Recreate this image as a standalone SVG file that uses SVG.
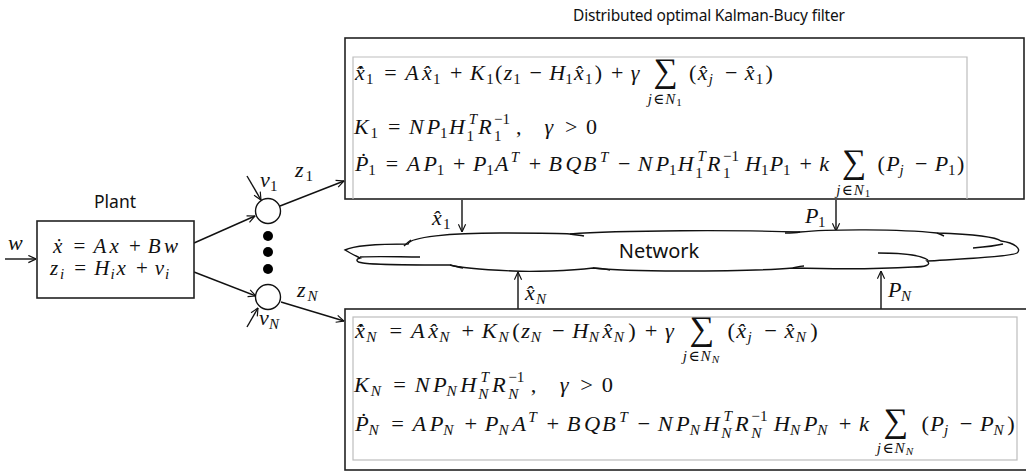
<svg xmlns="http://www.w3.org/2000/svg" width="1026" height="471" viewBox="0 0 1026 471">
<style>
.m{font-family:"Liberation Serif","DejaVu Serif",serif;font-size:22px;fill:#111}
.i{font-style:italic}
.s{font-size:15px}
.ss{font-size:11px}
.sg{font-size:34px;text-anchor:middle}
.lim{font-size:15px;text-anchor:middle;letter-spacing:1px}
.sans{font-family:"Noto Sans","Open Sans","DejaVu Sans",sans-serif;fill:#111}
.ln{fill:none;stroke:#111;stroke-width:1.4}
.box{fill:#fff;stroke:#222;stroke-width:1.6}
.gray{fill:none;stroke:#bdbdbd;stroke-width:1.2}
</style>
<defs>
<marker id="ah" viewBox="0 0 10 10" refX="9.5" refY="5" markerWidth="9" markerHeight="9" markerUnits="userSpaceOnUse" orient="auto">
<path d="M1,1 L9.5,5 L1,9" fill="none" stroke="#111" stroke-width="1.3"/>
</marker>
</defs>
<rect width="1026" height="471" fill="#fff"/>

<g id="title">
<text class="sans" x="709" y="21" font-size="15.5" text-anchor="middle" textLength="272" lengthAdjust="spacing">Distributed optimal Kalman-Bucy filter</text>
</g>

<g id="connectors">
<line class="ln" x1="5" y1="259" x2="36" y2="259" marker-end="url(#ah)"/>
<line class="ln" x1="194" y1="243" x2="255" y2="216" marker-end="url(#ah)"/>
<line class="ln" x1="194" y1="272" x2="256" y2="296" marker-end="url(#ah)"/>
<line class="ln" x1="247" y1="176" x2="261" y2="200" marker-end="url(#ah)"/>
<line class="ln" x1="247" y1="327" x2="258" y2="308" marker-end="url(#ah)"/>
<line class="ln" x1="280" y1="206" x2="344" y2="181" marker-end="url(#ah)"/>
<line class="ln" x1="281" y1="302" x2="344" y2="321" marker-end="url(#ah)"/>
<line class="ln" x1="462" y1="200" x2="462" y2="232" marker-end="url(#ah)"/>
<line class="ln" x1="836" y1="200" x2="836" y2="231" marker-end="url(#ah)"/>
<line class="ln" x1="518" y1="309" x2="518" y2="272" marker-end="url(#ah)"/>
<line class="ln" x1="881" y1="309" x2="881" y2="271" marker-end="url(#ah)"/>
<text class="m i" x="8" y="250">w</text>
<text class="m"><tspan class="i" x="260" y="187">v</tspan><tspan class="s" x="270" y="191">1</tspan></text>
<text class="m"><tspan class="i" x="295" y="177">z</tspan><tspan class="s" x="305.5" y="181">1</tspan></text>
<text class="m"><tspan class="i" x="297" y="297">z</tspan><tspan class="s i" x="307.5" y="301">N</tspan></text>
<text class="m"><tspan class="i" x="259" y="325">v</tspan><tspan class="s i" x="269" y="329">N</tspan></text>
<text class="m"><tspan class="i" x="432" y="225">x&#x302;</tspan><tspan class="s" x="443" y="229">1</tspan></text>
<text class="m"><tspan class="i" x="805" y="223">P</tspan><tspan class="s" x="818" y="227">1</tspan></text>
<text class="m"><tspan class="i" x="525" y="300">x&#x302;</tspan><tspan class="s i" x="536" y="304">N</tspan></text>
<text class="m"><tspan class="i" x="888" y="297">P</tspan><tspan class="s i" x="901" y="301">N</tspan></text>
</g>

<g id="plant">
<text class="sans" x="115" y="208" font-size="17.5" text-anchor="middle">Plant</text>
<rect class="box" x="37" y="221" width="157" height="77"/>
<text class="m" style="font-size:21px">
<tspan class="i" x="53" y="253">x&#x307;</tspan><tspan x="73.5" y="253">=</tspan><tspan class="i" x="93.6" y="253">A</tspan><tspan class="i" x="109.6" y="253">x</tspan><tspan x="128.9" y="253">+</tspan><tspan class="i" x="147.8" y="253">B</tspan><tspan class="i" x="164" y="253">w</tspan>
<tspan class="i" x="50" y="275">z</tspan><tspan class="s i" x="59.9" y="279">i</tspan><tspan x="74.2" y="275">=</tspan><tspan class="i" x="94.3" y="275">H</tspan><tspan class="s i" x="110.6" y="279">i</tspan><tspan class="i" x="116.6" y="275">x</tspan><tspan x="135.9" y="275">+</tspan><tspan class="i" x="154.8" y="275">v</tspan><tspan class="s i" x="165.1" y="279">i</tspan>
</text>
</g>

<g id="sum-node-1"><circle cx="268" cy="211" r="12.5" fill="#fff" stroke="#111" stroke-width="1.4"/></g>
<g id="sum-node-N"><circle cx="268" cy="297" r="12.5" fill="#fff" stroke="#111" stroke-width="1.4"/></g>
<g id="dots" fill="#000">
<circle cx="268" cy="236" r="5"/><circle cx="268" cy="252" r="5"/><circle cx="268" cy="269" r="5"/>
</g>

<g id="network">
<path d="M345,250 C355,245 385,244 408,244 C410,237 450,233 500,233 C540,233 560,233 570,234 C620,230 740,230 800,232 C830,229 900,229 937,233 C965,234 995,236 1001,241 C1015,243 1022,249 1017,253 C1010,257 960,259 927,261 C932,265 925,267 913,267 C880,269 830,269 793,268 C760,271 700,271 680,271 C650,271 610,270 593,268 C570,271 530,272 513,271 C490,270 460,268 450,265 C420,265 375,265 363,263 C355,262 356,259 360,258 C356,256 350,253 345,250 Z" fill="#fff" stroke="#111" stroke-width="1.4"/>
<path class="ln" d="M360,257 C380,256 400,257 420,257 M404,246 C406,244 408,242 411,240 M570,234 C575,235 580,235 584,236 M800,232 C795,233 790,233 785,233 M937,233 C940,234 942,235 944,236 M973,248 C985,247 995,246 1003,244 M878,253 C905,253 922,256 928,260 M793,268 C797,267 800,266 804,266 M593,268 C600,268 605,269 610,270 M450,265 C455,266 458,267 463,268"/>
<text class="sans" x="659" y="258" font-size="20" text-anchor="middle">Network</text>
</g>

<g id="filter-1">
<rect class="box" x="345" y="38" width="679" height="161"/>
<path class="gray" d="M353,199 V57 H967 V199"/>
<text class="m">
<tspan class="i" x="355" y="80">x&#x302;&#x307;</tspan><tspan class="s" x="366" y="84">1</tspan>
<tspan x="384.3" y="80">=</tspan>
<tspan class="i" x="405.3" y="80">A</tspan><tspan class="i" x="422" y="80">x&#x302;</tspan><tspan class="s" x="433" y="84">1</tspan>
<tspan x="450.1" y="80">+</tspan>
<tspan class="i" x="469.9" y="80">K</tspan><tspan class="s" x="486.3" y="84">1</tspan>
<tspan x="495.1" y="80">(</tspan><tspan class="i" x="503.8" y="80">z</tspan><tspan class="s" x="513.2" y="84">1</tspan>
<tspan x="529.5" y="80">−</tspan>
<tspan class="i" x="549.3" y="80">H</tspan><tspan class="s" x="565.3" y="84">1</tspan><tspan class="i" x="574.1" y="80">x&#x302;</tspan><tspan class="s" x="585.1" y="84">1</tspan><tspan x="594.7" y="80">)</tspan>
<tspan x="610.9" y="80">+</tspan>
<tspan class="i" x="630.7" y="80">γ</tspan>
<tspan class="sg" x="668" y="82">∑</tspan>
<tspan class="lim" x="668" y="103.5"><tspan class="i">j</tspan>∈<tspan class="i">N</tspan><tspan class="ss" dy="2">1</tspan></tspan>
<tspan x="689" y="80">(</tspan><tspan class="i" x="697.7" y="80">x&#x302;</tspan><tspan class="s i" x="708.7" y="84">j</tspan>
<tspan x="725" y="80">−</tspan>
<tspan class="i" x="744.8" y="80">x&#x302;</tspan><tspan class="s" x="755.8" y="84">1</tspan><tspan x="765.4" y="80">)</tspan>
</text>

<text class="m">
<tspan class="i" x="354" y="134">K</tspan><tspan class="s" x="370.4" y="138">1</tspan>
<tspan x="387.9" y="134">=</tspan>
<tspan class="i" x="408.9" y="134">N</tspan><tspan class="i" x="426.8" y="134">P</tspan><tspan class="s" x="440.1" y="138">1</tspan>
<tspan class="i" x="448.9" y="134">H</tspan><tspan class="s i" x="468.7" y="124">T</tspan><tspan class="s" x="466.4" y="141">1</tspan>
<tspan class="i" x="478.2" y="134">R</tspan><tspan class="s" x="494.1" y="124">−1</tspan><tspan class="s" x="494.1" y="141">1</tspan>
<tspan x="516.1" y="134">,</tspan>
<tspan class="i" x="544.6" y="134">γ</tspan><tspan x="564.9" y="134">&gt;</tspan><tspan x="585.9" y="134">0</tspan>
</text>

<text class="m">
<tspan class="i" x="355" y="171">P&#x307;</tspan><tspan class="s" x="368.3" y="175">1</tspan>
<tspan x="385.8" y="171">=</tspan>
<tspan class="i" x="406.8" y="171">A</tspan><tspan class="i" x="423.5" y="171">P</tspan><tspan class="s" x="436.8" y="175">1</tspan>
<tspan x="453.1" y="171">+</tspan>
<tspan class="i" x="472.9" y="171">P</tspan><tspan class="s" x="486.2" y="175">1</tspan><tspan class="i" x="495" y="171">A</tspan><tspan class="s i" x="510.7" y="162">T</tspan>
<tspan x="528.7" y="171">+</tspan>
<tspan class="i" x="548.5" y="171">B</tspan><tspan class="i" x="565.4" y="171">Q</tspan><tspan class="i" x="583" y="171">B</tspan><tspan class="s i" x="600" y="162">T</tspan>
<tspan x="618" y="171">−</tspan>
<tspan class="i" x="637.8" y="171">N</tspan><tspan class="i" x="655.7" y="171">P</tspan><tspan class="s" x="669" y="175">1</tspan>
<tspan class="i" x="677.8" y="171">H</tspan><tspan class="s i" x="697.6" y="161">T</tspan><tspan class="s" x="695.3" y="178">1</tspan>
<tspan class="i" x="707.1" y="171">R</tspan><tspan class="s" x="723" y="161">−1</tspan><tspan class="s" x="723" y="178">1</tspan>
<tspan class="i" x="745" y="171">H</tspan><tspan class="s" x="761" y="175">1</tspan><tspan class="i" x="769.8" y="171">P</tspan><tspan class="s" x="783.1" y="175">1</tspan>
<tspan x="799.4" y="171">+</tspan>
<tspan class="i" x="819.2" y="171">k</tspan>
<tspan class="sg" x="856.5" y="173">∑</tspan>
<tspan class="lim" x="856.5" y="194.5"><tspan class="i">j</tspan>∈<tspan class="i">N</tspan><tspan class="ss" dy="2">1</tspan></tspan>
<tspan x="877.5" y="171">(</tspan><tspan class="i" x="886.2" y="171">P</tspan><tspan class="s i" x="899.5" y="175">j</tspan>
<tspan x="915" y="171">−</tspan>
<tspan class="i" x="934.8" y="171">P</tspan><tspan class="s" x="948.1" y="175">1</tspan><tspan x="956.9" y="171">)</tspan>
</text>
</g>

<g id="filter-N">
<rect class="box" x="345" y="309" width="690" height="161"/>
<rect class="gray" x="353" y="317" width="664" height="143"/>
<g transform="matrix(1.02,0,0,1,-7.1,0)">
<text class="m">
<tspan class="i" x="355" y="338">x&#x302;&#x307;</tspan><tspan class="s i" x="366" y="342">N</tspan>
<tspan x="388.95" y="338">=</tspan>
<tspan class="i" x="410" y="338">A</tspan><tspan class="i" x="426.7" y="338">x&#x302;</tspan><tspan class="s i" x="437.7" y="342">N</tspan>
<tspan x="459.45" y="338">+</tspan>
<tspan class="i" x="479.3" y="338">K</tspan><tspan class="s i" x="495.7" y="342">N</tspan>
<tspan x="509.2" y="338">(</tspan><tspan class="i" x="517.9" y="338">z</tspan><tspan class="s i" x="527.3" y="342">N</tspan>
<tspan x="548.25" y="338">−</tspan>
<tspan class="i" x="568.1" y="338">H</tspan><tspan class="s i" x="584.1" y="342">N</tspan><tspan class="i" x="597.6" y="338">x&#x302;</tspan><tspan class="s i" x="608.6" y="342">N</tspan><tspan x="622.9" y="338">)</tspan>
<tspan x="639.05" y="338">+</tspan>
<tspan class="i" x="658.9" y="338">γ</tspan>
<tspan class="sg" x="697.5" y="340">∑</tspan>
<tspan class="lim" x="697.5" y="361.5"><tspan class="i">j</tspan>∈<tspan class="i">N</tspan><tspan class="ss i" dy="2">N</tspan></tspan>
<tspan x="720.2" y="338">(</tspan><tspan class="i" x="728.9" y="338">x&#x302;</tspan><tspan class="s i" x="739.9" y="342">j</tspan>
<tspan x="756.15" y="338">−</tspan>
<tspan class="i" x="776" y="338">x&#x302;</tspan><tspan class="s i" x="787" y="342">N</tspan><tspan x="801.3" y="338">)</tspan>
</text>

<text class="m">
<tspan class="i" x="354" y="392">K</tspan><tspan class="s i" x="370.4" y="396">N</tspan>
<tspan x="392.55" y="392">=</tspan>
<tspan class="i" x="413.6" y="392">N</tspan><tspan class="i" x="431.5" y="392">P</tspan><tspan class="s i" x="444.8" y="396">N</tspan>
<tspan class="i" x="458.3" y="392">H</tspan><tspan class="s i" x="478.1" y="382">T</tspan><tspan class="s i" x="475.8" y="399">N</tspan>
<tspan class="i" x="489.3" y="392">R</tspan><tspan class="s" x="505.2" y="382">−1</tspan><tspan class="s i" x="505.2" y="399">N</tspan>
<tspan x="527.2" y="392">,</tspan>
<tspan class="i" x="555.7" y="392">γ</tspan><tspan x="575.95" y="392">&gt;</tspan><tspan x="597" y="392">0</tspan>
</text>

<text class="m">
<tspan class="i" x="355" y="431">P&#x307;</tspan><tspan class="s i" x="368.3" y="435">N</tspan>
<tspan x="390.45" y="431">=</tspan>
<tspan class="i" x="411.5" y="431">A</tspan><tspan class="i" x="428.2" y="431">P</tspan><tspan class="s i" x="441.5" y="435">N</tspan>
<tspan x="462.45" y="431">+</tspan>
<tspan class="i" x="482.3" y="431">P</tspan><tspan class="s i" x="495.6" y="435">N</tspan><tspan class="i" x="509.1" y="431">A</tspan><tspan class="s i" x="524.8" y="422">T</tspan>
<tspan x="542.75" y="431">+</tspan>
<tspan class="i" x="562.6" y="431">B</tspan><tspan class="i" x="579.5" y="431">Q</tspan><tspan class="i" x="597.1" y="431">B</tspan><tspan class="s i" x="614.1" y="422">T</tspan>
<tspan x="632.05" y="431">−</tspan>
<tspan class="i" x="651.9" y="431">N</tspan><tspan class="i" x="669.8" y="431">P</tspan><tspan class="s i" x="683.1" y="435">N</tspan>
<tspan class="i" x="696.6" y="431">H</tspan><tspan class="s i" x="716.4" y="421">T</tspan><tspan class="s i" x="714.1" y="438">N</tspan>
<tspan class="i" x="727.6" y="431">R</tspan><tspan class="s" x="743.5" y="421">−1</tspan><tspan class="s i" x="743.5" y="438">N</tspan>
<tspan class="i" x="765.5" y="431">H</tspan><tspan class="s i" x="781.5" y="435">N</tspan><tspan class="i" x="795" y="431">P</tspan><tspan class="s i" x="808.3" y="435">N</tspan>
<tspan x="829.25" y="431">+</tspan>
<tspan class="i" x="849.1" y="431">k</tspan>
<tspan class="sg" x="887.7" y="432">∑</tspan>
<tspan class="lim" x="887.7" y="453.5"><tspan class="i">j</tspan>∈<tspan class="i">N</tspan><tspan class="ss i" dy="2">N</tspan></tspan>
<tspan x="910.4" y="431">(</tspan><tspan class="i" x="919.1" y="431">P</tspan><tspan class="s i" x="932.4" y="435">j</tspan>
<tspan x="947.85" y="431">−</tspan>
<tspan class="i" x="967.7" y="431">P</tspan><tspan class="s i" x="981" y="435">N</tspan><tspan x="994.5" y="431">)</tspan>
</text>
</g>
</g>
</svg>
